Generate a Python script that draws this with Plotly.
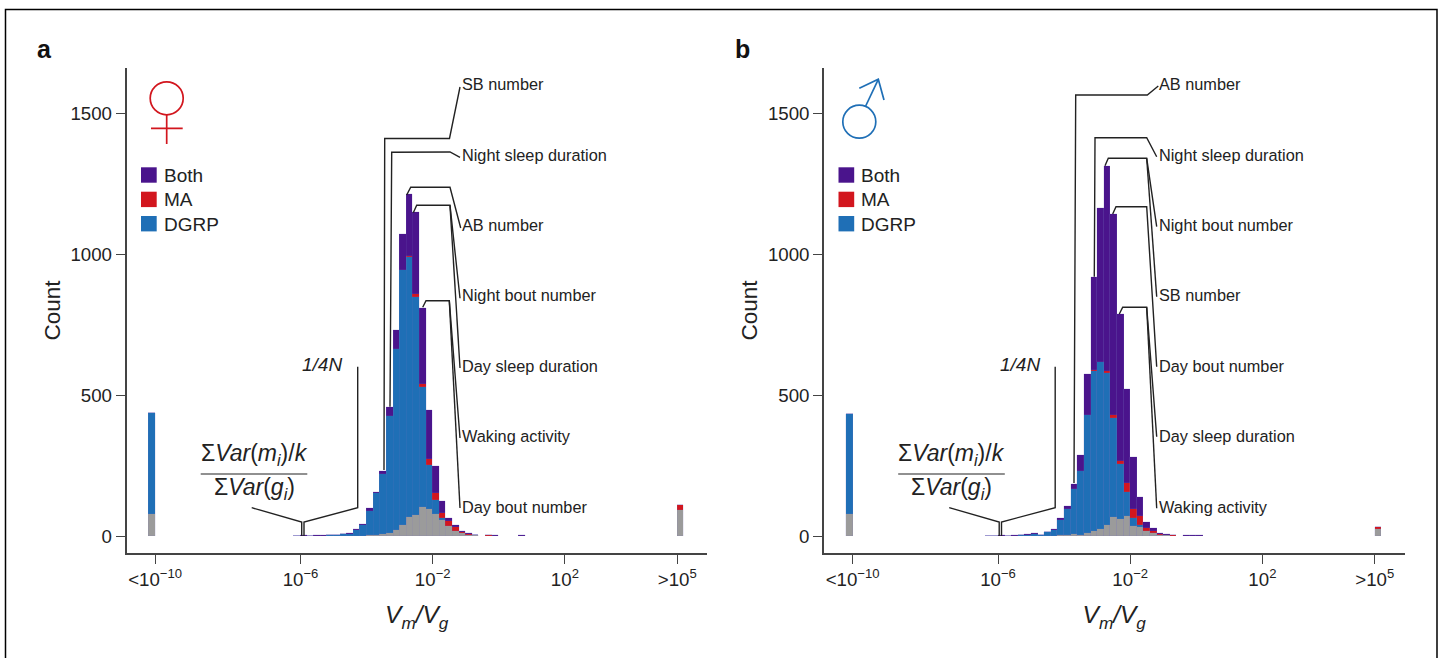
import plotly.graph_objects as go

W, H = 1443, 658
FONT = "Liberation Sans"
PURPLE, RED, BLUE, GRAY = "#4a148c", "#d2161e", "#1f6fb6", "#9b9b9b"
INK = "#222222"
AXIS = "#444444"

# ---------- data (counts per bin, log10 Vm/Vg bin centres) ----------
female_x = [-10.5, -6.1, -5.9, -5.7, -5.5, -5.3, -5.1, -4.9, -4.7, -4.5, -4.3, -4.1, -3.9, -3.7, -3.5, -3.3, -3.1,
            -2.9, -2.7, -2.5, -2.3, -2.1, -1.9, -1.7, -1.5, -1.3, -1.1, -0.9, -0.7, -0.3, -0.1, 0.7, 5.5]
female_none = [78, 0, 0, 0, 0, 0, 0, 0, 0, 0, 1, 1, 2, 4, 7, 12, 21,
               38, 66, 73, 104, 95, 78, 57, 36, 18, 10, 5, 2, 0, 0, 0, 92]
female_dgrp = [358, 1, 1, 0, 1, 1, 2, 4, 6, 8, 22, 39, 88, 148, 212, 416, 642,
               907, 924, 777, 424, 157, 50, 7, 1, 1, 0, 0, 0, 0, 0, 0, 0]
female_ma = [0, 0, 0, 0, 0, 0, 0, 0, 0, 0, 0, 0, 0, 0, 0, 0, 0,
             2, 5, 11, 13, 20, 24, 19, 16, 12, 5, 3, 2, 2, 1, 1, 19]
female_both = [0, 0, 1, 1, 1, 2, 1, 1, 1, 1, 1, 1, 8, 4, 13, 30, 69,
               126, 219, 291, 270, 176, 97, 43, 10, 7, 4, 4, 1, 1, 1, 1, 0]

male_x = [-10.5, -6.3, -6.1, -5.9, -5.7, -5.5, -5.3, -5.1, -4.9, -4.7, -4.5, -4.3, -4.1, -3.9, -3.7, -3.5, -3.3, -3.1,
          -2.9, -2.7, -2.5, -2.3, -2.1, -1.9, -1.7, -1.5, -1.3, -1.1, -0.9, -0.7, -0.3, -0.1, 0.1, 5.5]
male_none = [78, 0, 0, 0, 0, 0, 0, 0, 0, 0, 0, 1, 2, 3, 7, 3, 12, 19,
             24, 40, 66, 59, 71, 36, 33, 19, 9, 4, 2, 1, 0, 0, 0, 24]
male_dgrp = [355, 0, 1, 1, 1, 1, 2, 5, 8, 3, 13, 22, 55, 93, 160, 227, 417, 569,
             594, 541, 355, 197, 87, 29, 6, 0, 0, 0, 0, 0, 0, 0, 0, 0]
male_ma = [0, 0, 0, 0, 0, 0, 0, 0, 0, 0, 0, 0, 0, 0, 0, 0, 0, 1,
           0, 5, 9, 12, 29, 30, 33, 11, 9, 4, 2, 2, 1, 1, 1, 9]
male_both = [0, 1, 0, 1, 0, 1, 1, 1, 1, 1, 1, 1, 6, 9, 17, 57, 148, 332,
             547, 730, 715, 520, 334, 186, 68, 20, 10, 4, 2, 1, 1, 1, 1, 0]

tick_vals = [-10.4, -6, -2, 2, 5.4]
tick_text = ["&lt;10<sup>\u221210</sup>", "10<sup>\u22126</sup>", "10<sup>\u22122</sup>", "10<sup>2</sup>", "&gt;10<sup>5</sup>"]
y_ticks = [0, 500, 1000, 1500]
legend_items = [("Both", PURPLE), ("MA", RED), ("DGRP", BLUE)]

female_labels = ["SB number", "Night sleep duration", "AB number", "Night bout number",
                 "Day sleep duration", "Waking activity", "Day bout number"]
male_labels = ["AB number", "Night sleep duration", "Night bout number", "SB number",
               "Day bout number", "Day sleep duration", "Waking activity"]
label_rows = [84.5, 154.5, 224.5, 295, 365.5, 435.5, 506.5]

# ---------- helpers: reference pixels to paper fractions ----------
def px(x):
    return x / W
def py(y):
    return 1 - y / H
def path(points):
    return "M" + " L".join(f"{px(x):.5f},{py(y):.5f}" for x, y in points)

shapes, notes = [], []
def polyline(points, color=INK, width=1.4):
    shapes.append(dict(type="path", xref="paper", yref="paper", path=path(points),
                       line=dict(color=color, width=width), fillcolor="rgba(0,0,0,0)"))
def rect(x0, y0, x1, y1, color):
    shapes.append(dict(type="rect", xref="paper", yref="paper", x0=px(x0), x1=px(x1), y0=py(y0), y1=py(y1),
                       fillcolor=color, line=dict(width=0)))
def circle(cx, cy, r, color):
    shapes.append(dict(type="circle", xref="paper", yref="paper", x0=px(cx - r), x1=px(cx + r),
                       y0=py(cy + r), y1=py(cy - r), line=dict(color=color, width=1.7),
                       fillcolor="rgba(0,0,0,0)"))
def text(x, y, s, size=16.3, anchor="left", color=INK):
    notes.append(dict(xref="paper", yref="paper", x=px(x), y=py(y), text=s, showarrow=False,
                      xanchor=anchor, yanchor="middle", align=anchor, borderpad=0,
                      font=dict(family=FONT, size=size, color=color)))

# ---------- figure ----------
fig = go.Figure()
PANELS = [("x", "y", female_x, female_none, female_dgrp, female_ma, female_both),
          ("x2", "y2", male_x, male_none, male_dgrp, male_ma, male_both)]
for xa, ya, xs, none, dgrp, ma, both in PANELS:
    for name, vals, col in [("None", none, GRAY), ("DGRP", dgrp, BLUE), ("MA", ma, RED), ("Both", both, PURPLE)]:
        fig.add_trace(go.Bar(x=xs, y=vals, name=name, width=0.2, xaxis=xa, yaxis=ya, showlegend=False,
                             marker=dict(color=col, line=dict(color="rgba(120,110,190,0.35)", width=0.4))))

axis_common = dict(showgrid=False, zeroline=False, showline=True, linecolor=AXIS, linewidth=1.6,
                   ticks="outside", ticklen=9, tickwidth=1.4, tickcolor=AXIS,
                   tickfont=dict(family=FONT, size=18.7, color=INK))
layout_axes = {}
for suffix, dx in [("", 0.0), ("2", 697.5)]:
    layout_axes["xaxis" + suffix] = dict(
        axis_common, domain=[px(126.5 + dx), px(707 + dx)], range=[-11.265, 6.30],
        anchor="y" + suffix, tickmode="array", tickvals=tick_vals, ticktext=tick_text,
        title=dict(text="<i>V<sub>m</sub>/V<sub>g</sub></i>", standoff=17,
                   font=dict(family=FONT, size=24.5, color=INK)))
    layout_axes["yaxis" + suffix] = dict(
        axis_common, domain=[py(553), py(68)], range=[-60.4, 1663],
        anchor="x" + suffix, tickmode="array", tickvals=y_ticks, ticktext=[str(v) for v in y_ticks],
        title=dict(text="Count", standoff=4, font=dict(family=FONT, size=22.5, color=INK)))

# frame round the whole picture
polyline([(5.5, 658), (5.5, 9.5), (1437, 9.5), (1437, 658)], color="#000000", width=1.5)

for dx, letter in [(0.0, "a"), (697.5, "b")]:
    text(36 + dx, 49.5, f"<b>{letter}</b>", size=25, color="#111111")
    for (name, col), top in zip(legend_items, [167.3, 191.7, 216]):
        rect(141 + dx, top, 156.7 + dx, top + 15.4, col)
        text(162.5 + dx, top + 8.2, name, size=19)
    # 1/4N and the variance ratio
    text(322.3 + dx, 365, "<i>1/4N</i>", size=19, anchor="center")
    text(254 + dx, 454.5, "\u03a3<i>Var</i>(<i>m<sub>i</sub></i>)/<i>k</i>", size=23, anchor="center")
    text(254 + dx, 488.5, "\u03a3<i>Var</i>(<i>g<sub>i</sub></i>)", size=23, anchor="center")
    polyline([(200.7 + dx, 474), (307.3 + dx, 474)], width=1.2)
    polyline([(357.7 + dx, 366.7), (357.7 + dx, 507.7), (304 + dx, 522), (304 + dx, 536)])
    polyline([(251.7 + dx, 507.7), (301.7 + dx, 522), (301.7 + dx, 536)])

# sex symbols
circle(166.7, 98.3, 16.5, RED)
polyline([(166.7, 114.8), (166.7, 144)], color=RED, width=1.7)
polyline([(151, 128.3), (182.7, 128.3)], color=RED, width=1.7)
circle(859.3, 121.7, 16.5, BLUE)
polyline([(865.7, 106), (878.3, 79.3)], color=BLUE, width=1.7)
polyline([(859.3, 88.3), (878.3, 79.3), (884, 100)], color=BLUE, width=1.7)

# leader lines, panel a
polyline([(460, 87), (449.5, 138.5), (384.7, 138.5), (384, 470)])
polyline([(460, 157.3), (450, 152), (391.7, 152.3), (390, 406.7)])
polyline([(406.7, 195), (410.7, 187.3), (450, 187.3), (460.7, 228)])
polyline([(413.3, 212.7), (416.7, 205.3), (450, 205.3), (460, 298.3)])
polyline([(450, 205.3), (460, 368)])
polyline([(422.7, 307.3), (426, 300.7), (449.3, 300.7), (460, 438)])
polyline([(449.3, 300.7), (460, 508)])
# leader lines, panel b
polyline([(1158.3, 86), (1147.3, 95), (1075.7, 95), (1074, 483)])
polyline([(1156.7, 156.7), (1146.7, 137.7), (1095, 137.7), (1094.3, 276.7)])
polyline([(1105, 165.7), (1108.3, 158.3), (1146.7, 158.3), (1156.7, 226.7)])
polyline([(1146.7, 158.3), (1156.7, 296.7)])
polyline([(1112.7, 214), (1116, 206.7), (1146.7, 206.7), (1156.7, 366.7)])
polyline([(1119.3, 314), (1122.7, 307.3), (1146.7, 307.3), (1156.7, 436.7)])
polyline([(1146.7, 307.3), (1156.7, 508.3)])

for lab, row in zip(female_labels, label_rows):
    text(460.5, row, lab)
for lab, row in zip(male_labels, label_rows):
    text(1157.5, row, lab)

fig.update_layout(width=W, height=H, autosize=False, margin=dict(l=0, r=0, t=0, b=0),
                  paper_bgcolor="white", plot_bgcolor="white", barmode="stack", bargap=0,
                  font=dict(family=FONT, color=INK), shapes=shapes, annotations=notes, **layout_axes)
fig.write_html("out.html", config={"displayModeBar": False}, post_script="document.body.style.margin='0';")
